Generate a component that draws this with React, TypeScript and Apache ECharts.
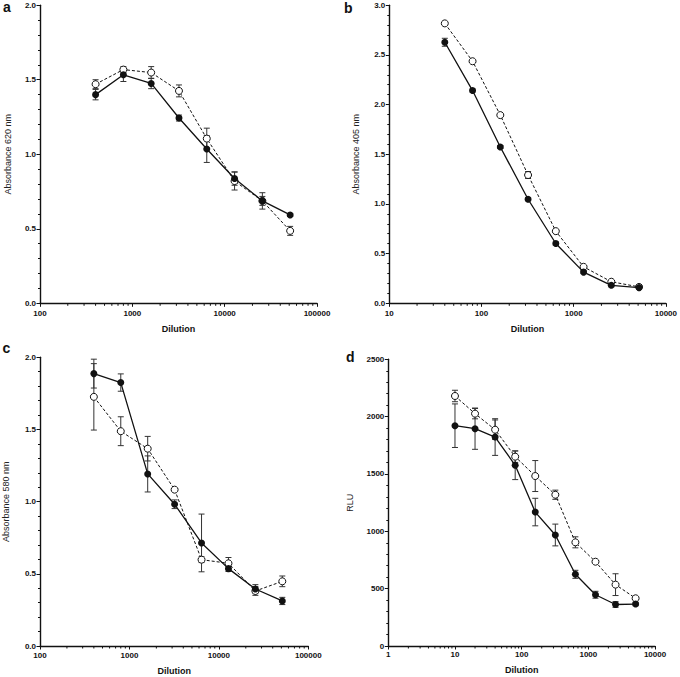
import React, { useEffect, useRef } from "react";
import * as echarts from "echarts";

// Panel a
const dilutionA = [400, 800, 1600, 3200, 6400, 12800, 25600, 51200];
const filledA = [1.40, 1.533, 1.475, 1.243, 1.035, 0.837, 0.687, 0.593];
const filledAErr = [0.035, 0.045, 0.035, 0.02, 0.09, 0.045, 0.03, 0.01];
const openA = [1.47, 1.568, 1.548, 1.425, 1.105, 0.82, 0.687, 0.486];
const openAErr = [0.03, 0.02, 0.04, 0.04, 0.07, 0.06, 0.055, 0.03];

// Panel b
const dilutionB = [40, 80, 160, 320, 640, 1280, 2560, 5120];
const filledB = [2.627, 2.141, 1.573, 1.047, 0.602, 0.314, 0.181, 0.158];
const filledBErr = [0.04, 0.015, 0.015, 0.015, 0.015, 0.015, 0.015, 0.015];
const openB = [2.817, 2.436, 1.894, 1.291, 0.726, 0.367, 0.217, 0.165];
const openBErr = [0.01, 0.01, 0.01, 0.035, 0.01, 0.01, 0.01, 0.01];

// Panel c
const dilutionC = [400, 800, 1600, 3200, 6400, 12800, 25600, 51200];
const filledC = [1.887, 1.825, 1.192, 0.982, 0.714, 0.536, 0.395, 0.312];
const filledCErr = [0.1, 0.06, 0.125, 0.03, 0.2, 0.02, 0.03, 0.025];
const openC = [1.726, 1.488, 1.367, 1.083, 0.598, 0.573, 0.381, 0.448];
const openCErr = [0.23, 0.1, 0.085, 0.01, 0.02, 0.04, 0.03, 0.037];

// Panel d
const dilutionD = [10, 20, 40, 80, 160, 320, 640, 1280, 2560, 5120];
const filledD = [1921, 1895, 1822, 1576, 1168, 968, 625, 447, 362, 366];
const filledDErr = [190, 180, 160, 125, 120, 95, 35, 30, 25, 15];
const openD = [2180, 2026, 1886, 1651, 1482, 1319, 904, 735, 535, 416];
const openDErr = [50, 45, 85, 50, 135, 40, 48, 10, 95, 15];

const panelLetters = ["a", "b", "c", "d"];
const yNames = ["Absorbance 620 nm", "Absorbance 405 nm", "Absorbance 580 nm", "RLU"];
const xName = "Dilution";

const FONT = "'Liberation Sans', Arial, Helvetica, sans-serif";
const INK = "#111";

function minorLogTicks(min: number, max: number): number[] {
  const out: number[] = [];
  for (let dec = min; dec < max; dec *= 10) {
    for (let k = 2; k <= 9; k++) out.push(dec * k);
  }
  return out;
}

type Panel = {
  grid: { left: number; top: number; width: number; height: number };
  xMin: number;
  xMax: number;
  yMax: number;
  yInterval: number;
  yDecimals: number;
  x: number[];
  filled: number[];
  filledErr: number[];
  open: number[];
  openErr: number[];
  yNameGap: number;
  xLabelMargin: number;
  xNameGap: number;
};

const panels: Panel[] = [
  {
    grid: { left: 40, top: 5.2, width: 277, height: 298.1 },
    xMin: 100, xMax: 100000, yMax: 2, yInterval: 0.5, yDecimals: 1,
    x: dilutionA, filled: filledA, filledErr: filledAErr, open: openA, openErr: openAErr,
    yNameGap: 28, xLabelMargin: 6, xNameGap: 21,
  },
  {
    grid: { left: 389.3, top: 5.2, width: 276.7, height: 298.1 },
    xMin: 10, xMax: 10000, yMax: 3, yInterval: 0.5, yDecimals: 1,
    x: dilutionB, filled: filledB, filledErr: filledBErr, open: openB, openErr: openBErr,
    yNameGap: 29, xLabelMargin: 6, xNameGap: 21,
  },
  {
    grid: { left: 40, top: 357.3, width: 268.3, height: 288.7 },
    xMin: 100, xMax: 100000, yMax: 2, yInterval: 0.5, yDecimals: 1,
    x: dilutionC, filled: filledC, filledErr: filledCErr, open: openC, openErr: openCErr,
    yNameGap: 30, xLabelMargin: 5, xNameGap: 20,
  },
  {
    grid: { left: 388.3, top: 359.3, width: 266.7, height: 286.7 },
    xMin: 1, xMax: 10000, yMax: 2500, yInterval: 500, yDecimals: 0,
    x: dilutionD, filled: filledD, filledErr: filledDErr, open: openD, openErr: openDErr,
    yNameGap: 34, xLabelMargin: 4, xNameGap: 19,
  },
];

const letterPos = [
  { x: 3, y: 0 },
  { x: 344, y: 0.5 },
  { x: 2.5, y: 341 },
  { x: 346, y: 349.5 },
];

function errorBarRender(params: any, api: any) {
  const x = api.value(0);
  const y = api.value(1);
  const e = api.value(2);
  const top = api.coord([x, y + e]);
  const bot = api.coord([x, y - e]);
  const w = 3;
  const style = { stroke: "#333", lineWidth: 1 };
  return {
    type: "group",
    children: [
      { type: "line", shape: { x1: top[0], y1: top[1], x2: bot[0], y2: bot[1] }, style },
      { type: "line", shape: { x1: top[0] - w, y1: top[1], x2: top[0] + w, y2: top[1] }, style },
      { type: "line", shape: { x1: bot[0] - w, y1: bot[1], x2: bot[0] + w, y2: bot[1] }, style },
    ],
  };
}

function minorTickRender(params: any, api: any) {
  const p = api.coord([api.value(0), api.value(1)]);
  return {
    type: "line",
    shape: { x1: p[0], y1: p[1], x2: p[0], y2: p[1] + 2.5 },
    style: { stroke: INK, lineWidth: 1 },
  };
}

function buildOption() {
  const grid: any[] = [];
  const xAxis: any[] = [];
  const yAxis: any[] = [];
  const series: any[] = [];

  panels.forEach((p, i) => {
    grid.push({ ...p.grid, containLabel: false });
    xAxis.push({
      type: "log",
      logBase: 10,
      gridIndex: i,
      min: p.xMin,
      max: p.xMax,
      name: xName,
      nameLocation: "middle",
      nameGap: p.xNameGap,
      nameTextStyle: { fontFamily: FONT, fontSize: 9, fontWeight: "bold", color: INK },
      axisLine: { show: true, lineStyle: { color: INK, width: 1.4 } },
      axisTick: { show: true, length: 3.5, lineStyle: { color: INK, width: 1 } },
      minorTick: { show: false },
      splitLine: { show: false },
      axisLabel: {
        fontFamily: FONT,
        fontSize: 8,
        fontWeight: "bold",
        color: INK,
        margin: p.xLabelMargin,
        formatter: (v: number) => String(Math.round(v)),
      },
    });
    yAxis.push({
      type: "value",
      gridIndex: i,
      min: 0,
      max: p.yMax,
      interval: p.yInterval,
      name: yNames[i],
      nameLocation: "middle",
      nameRotate: 90,
      nameGap: p.yNameGap,
      nameTextStyle: { fontFamily: FONT, fontSize: 9, color: "#222" },
      axisLine: { show: true, lineStyle: { color: INK, width: 1.4 } },
      axisTick: { show: true, length: 3.5, lineStyle: { color: INK, width: 1 } },
      minorTick: { show: true, splitNumber: 5, length: 2, lineStyle: { color: INK, width: 1 } },
      splitLine: { show: false },
      axisLabel: {
        fontFamily: FONT,
        fontSize: 8,
        fontWeight: "bold",
        color: INK,
        margin: 4,
        formatter: (v: number) => v.toFixed(p.yDecimals),
      },
    });

    const minors = minorLogTicks(p.xMin, p.xMax);
    series.push({
      type: "custom",
      xAxisIndex: i,
      yAxisIndex: i,
      renderItem: minorTickRender,
      data: minors.map((v) => [v, 0]),
      silent: true,
      clip: false,
      z: 1,
    });
    series.push({
      type: "custom",
      xAxisIndex: i,
      yAxisIndex: i,
      renderItem: errorBarRender,
      data: p.x.map((d, k) => [d, p.filled[k], p.filledErr[k]]),
      silent: true,
      z: 2,
    });
    series.push({
      type: "custom",
      xAxisIndex: i,
      yAxisIndex: i,
      renderItem: errorBarRender,
      data: p.x.map((d, k) => [d, p.open[k], p.openErr[k]]),
      silent: true,
      z: 2,
    });
    series.push({
      type: "line",
      xAxisIndex: i,
      yAxisIndex: i,
      data: p.x.map((d, k) => [d, p.open[k]]),
      symbol: "circle",
      symbolSize: 7,
      itemStyle: { color: "#fff", borderColor: INK, borderWidth: 1 },
      lineStyle: { color: INK, width: 1, type: [3, 2] },
      z: 3,
    });
    series.push({
      type: "line",
      xAxisIndex: i,
      yAxisIndex: i,
      data: p.x.map((d, k) => [d, p.filled[k]]),
      symbol: "circle",
      symbolSize: 7,
      itemStyle: { color: INK, borderColor: INK, borderWidth: 0 },
      lineStyle: { color: INK, width: 1.3 },
      z: 4,
    });
  });

  const graphic = panelLetters.map((t, i) => ({
    type: "text",
    x: letterPos[i].x,
    y: letterPos[i].y,
    style: {
      text: t,
      fontFamily: FONT,
      fontSize: 14,
      fontWeight: "bold",
      fill: INK,
      verticalAlign: "top",
    },
  }));

  return {
    animation: false,
    backgroundColor: "#fff",
    grid,
    xAxis,
    yAxis,
    series,
    graphic,
  };
}

export default function App() {
  const ref = useRef<HTMLDivElement>(null);
  useEffect(() => {
    if (!ref.current) return;
    const chart = echarts.init(ref.current, undefined, { renderer: "svg" });
    chart.setOption(buildOption() as any);
    return () => chart.dispose();
  }, []);
  return (
    <div
      ref={ref}
      style={{ position: "absolute", left: 0, top: 0, width: 680, height: 677 }}
    />
  );
}
